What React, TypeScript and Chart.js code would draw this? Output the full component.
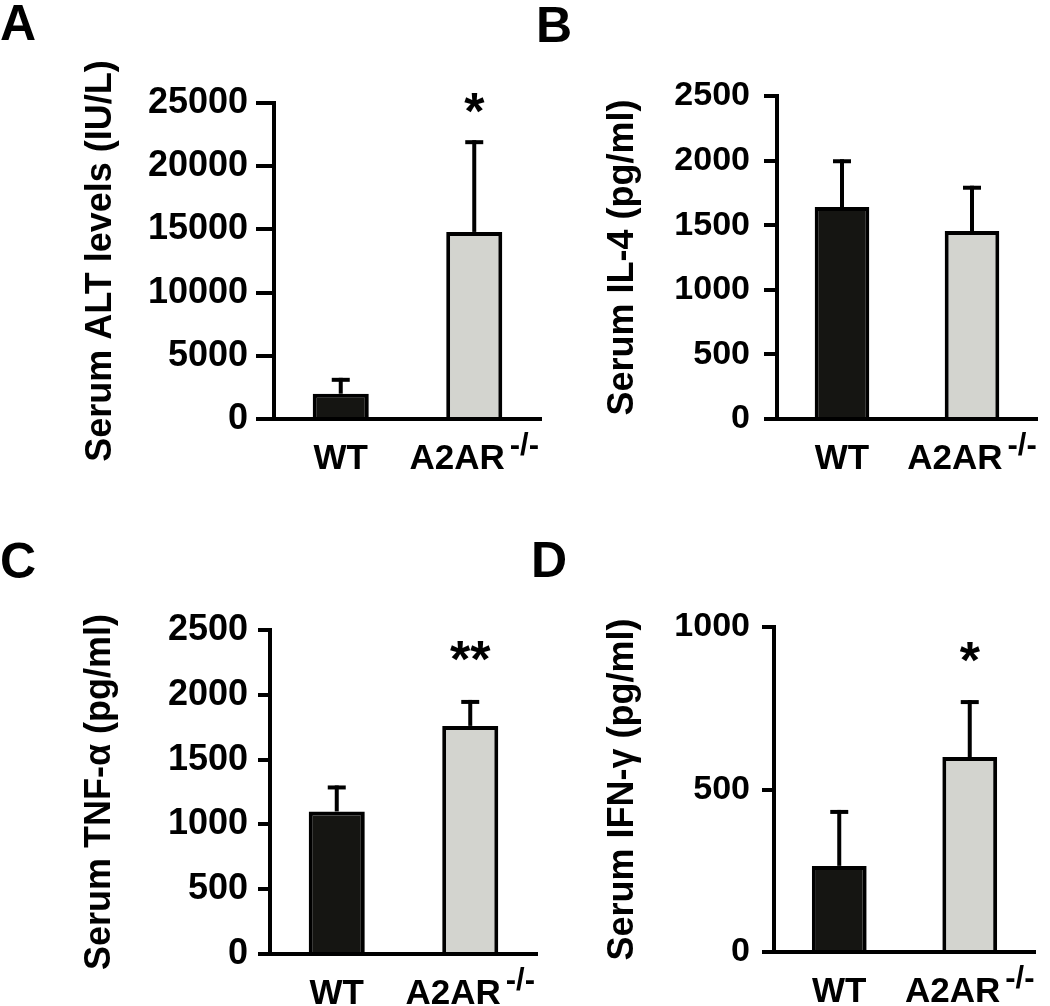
import React, { useEffect, useRef } from 'react';
import { Chart, registerables } from 'chart.js';

Chart.register(...registerables);

// ---------- data ----------
const categories = ['WT', 'A2AR'];
const categorySuperscripts = ['', '-/-'];

const altMeans = [2000, 14800];
const altErrors = [1100, 7100];
const altSig = ['', '*'];
const altSigLevel = 25000;

const il4Means = [1640, 1455];
const il4Errors = [355, 335];
const il4Sig = ['', ''];
const il4SigLevel = 0;

const tnfMeans = [1100, 1760];
const tnfErrors = [185, 185];
const tnfSig = ['', '**'];
const tnfSigLevel = 2340;

const ifnMeans = [265, 600];
const ifnErrors = [166, 169];
const ifnSig = ['', '*'];
const ifnSigLevel = 923;

const altAxis = { max: 25000, step: 5000 };
const il4Axis = { max: 2500, step: 500 };
const tnfAxis = { max: 2500, step: 500 };
const ifnAxis = { max: 1000, step: 500 };

// ---------- styling ----------
const FONT = '"Liberation Sans", Arial, Helvetica, sans-serif';
const BAR_COLORS = ['#151512', '#d3d4cf'];

type PanelCfg = {
  letter: string;
  letterPos: [number, number];
  title: string;
  means: number[];
  errors: number[];
  sig: string[];
  sigLevel: number;
  axis: { max: number; step: number };
  canvas: { left: number; top: number; w: number; h: number };
  area: { left: number; right: number; top: number; bottom: number };
  titleCX: number;
  tickLen: number;
  tickPad: number;
  tickSize: number;
};

const panels: PanelCfg[] = [
  {
    letter: 'A', letterPos: [0, 40], title: 'Serum ALT levels (IU/L)',
    means: altMeans, errors: altErrors, sig: altSig, sigLevel: altSigLevel, axis: altAxis,
    canvas: { left: 0, top: 0, w: 560, h: 500 },
    area: { left: 274, right: 541, top: 103, bottom: 419 },
    titleCX: 101, tickLen: 18, tickPad: 8, tickSize: 36,
  },
  {
    letter: 'B', letterPos: [6, 42], title: 'Serum IL-4 (pg/ml)',
    means: il4Means, errors: il4Errors, sig: il4Sig, sigLevel: il4SigLevel, axis: il4Axis,
    canvas: { left: 530, top: 0, w: 520, h: 500 },
    area: { left: 247, right: 507, top: 96, bottom: 419 },
    titleCX: 93, tickLen: 13, tickPad: 14, tickSize: 34,
  },
  {
    letter: 'C', letterPos: [0, 78], title: 'Serum TNF-\u03B1 (pg/ml)',
    means: tnfMeans, errors: tnfErrors, sig: tnfSig, sigLevel: tnfSigLevel, axis: tnfAxis,
    canvas: { left: 0, top: 500, w: 560, h: 506 },
    area: { left: 270, right: 537, top: 130, bottom: 454 },
    titleCX: 100, tickLen: 12, tickPad: 10, tickSize: 36,
  },
  {
    letter: 'D', letterPos: [1, 77], title: 'Serum IFN-\u03B3 (pg/ml)',
    means: ifnMeans, errors: ifnErrors, sig: ifnSig, sigLevel: ifnSigLevel, axis: ifnAxis,
    canvas: { left: 530, top: 500, w: 520, h: 506 },
    area: { left: 244, right: 505, top: 127, bottom: 452 },
    titleCX: 93, tickLen: 12, tickPad: 12, tickSize: 34,
  },
];

const TITLE_SIZE = 36;

function makeDeco(p: PanelCfg) {
  return {
    id: 'deco' + p.letter,
    afterDatasetsDraw(chart: any) {
      const ctx = chart.ctx as CanvasRenderingContext2D;
      const y = chart.scales.y;
      const meta = chart.getDatasetMeta(0);
      ctx.save();
      ctx.strokeStyle = '#000';
      ctx.lineWidth = 4;
      ctx.lineCap = 'butt';
      p.means.forEach((m, i) => {
        const cx = meta.data[i].x;
        const y0 = y.getPixelForValue(m);
        const y1 = y.getPixelForValue(m + p.errors[i]);
        ctx.beginPath();
        ctx.moveTo(cx, y0);
        ctx.lineTo(cx, y1 - 2);
        ctx.stroke();
        ctx.beginPath();
        ctx.moveTo(cx - 9, y1);
        ctx.lineTo(cx + 9, y1);
        ctx.stroke();
      });
      ctx.restore();
    },
    afterDraw(chart: any) {
      const ctx = chart.ctx as CanvasRenderingContext2D;
      const y = chart.scales.y;
      const meta = chart.getDatasetMeta(0);
      const area = chart.chartArea;
      ctx.save();
      ctx.fillStyle = '#000';
      ctx.textBaseline = 'alphabetic';

      // panel letter
      ctx.font = `bold 50px ${FONT}`;
      ctx.textAlign = 'left';
      ctx.fillText(p.letter, p.letterPos[0], p.letterPos[1]);

      // category labels with superscripts
      const mainFont = `bold 35px ${FONT}`;
      const supFont = `bold 31px ${FONT}`;
      categories.forEach((c, i) => {
        const cx = meta.data[i].x;
        ctx.font = mainFont;
        const wMain = ctx.measureText(c).width;
        const sup = categorySuperscripts[i];
        ctx.font = supFont;
        const wSup = sup ? ctx.measureText(sup).width : 0;
        const gap = sup ? 5 : 0;
        const start = cx - (wMain + gap + wSup) / 2;
        const base = area.bottom + 50;
        ctx.font = mainFont;
        ctx.fillText(c, start, base);
        if (sup) {
          ctx.font = supFont;
          ctx.fillText(sup, start + wMain + gap, base - 14);
        }
      });

      // significance marks
      ctx.font = `bold 52px ${FONT}`;
      ctx.textAlign = 'center';
      p.sig.forEach((s, i) => {
        if (!s) return;
        const cx = meta.data[i].x;
        const m = ctx.measureText(s);
        const cy = y.getPixelForValue(p.sigLevel);
        ctx.fillText(s, cx, cy + (m.actualBoundingBoxAscent - m.actualBoundingBoxDescent) / 2);
      });
      ctx.restore();
    },
  };
}

function Panel({ p }: { p: PanelCfg }) {
  const ref = useRef<HTMLCanvasElement | null>(null);
  useEffect(() => {
    if (!ref.current) return;
    const padL = Math.round(p.titleCX - (TITLE_SIZE * 1.2) / 2);
    const chart = new Chart(ref.current, {
      type: 'bar',
      data: {
        labels: categories,
        datasets: [
          {
            data: p.means,
            backgroundColor: BAR_COLORS,
            borderColor: '#000',
            borderWidth: 4,
            barPercentage: 0.42,
            categoryPercentage: 1,
          },
        ],
      },
      options: {
        responsive: false,
        animation: false,
        events: [],
        layout: {
          padding: {
            left: padL,
            top: p.area.top,
            right: p.canvas.w - p.area.right,
            bottom: 0,
          },
        },
        plugins: { legend: { display: false }, tooltip: { enabled: false } },
        scales: {
          x: {
            type: 'category',
            offset: true,
            grid: { display: false, drawTicks: false },
            border: { display: true, color: '#000', width: 4 },
            ticks: { display: false },
            afterFit: (s: any) => {
              s.height = p.canvas.h - p.area.bottom;
            },
          },
          y: {
            min: 0,
            max: p.axis.max,
            ticks: {
              stepSize: p.axis.step,
              color: '#000',
              padding: p.tickPad,
              font: { family: FONT, size: p.tickSize, weight: 'bold' },
              callback: (v: any) => String(v),
            },
            grid: {
              drawOnChartArea: false,
              drawTicks: true,
              tickLength: p.tickLen,
              tickWidth: 4,
              tickColor: '#000',
              lineWidth: 4,
              color: '#000',
            },
            border: { display: true, color: '#000', width: 4 },
            title: {
              display: true,
              text: p.title,
              color: '#000',
              padding: 0,
              font: { family: FONT, size: TITLE_SIZE, weight: 'bold' },
            },
            afterFit: (s: any) => {
              s.width = p.area.left - padL;
            },
          },
        },
      } as any,
      plugins: [makeDeco(p)],
    });
    return () => chart.destroy();
  }, [p]);
  return (
    <canvas
      ref={ref}
      width={p.canvas.w}
      height={p.canvas.h}
      style={{
        position: 'absolute',
        left: p.canvas.left,
        top: p.canvas.top,
        width: p.canvas.w,
        height: p.canvas.h,
      }}
    />
  );
}

export default function App() {
  return (
    <div
      style={{
        position: 'absolute',
        left: 0,
        top: 0,
        width: 1050,
        height: 1006,
        background: '#fff',
        overflow: 'hidden',
      }}
    >
      {panels.map((p) => (
        <Panel key={p.letter} p={p} />
      ))}
    </div>
  );
}
